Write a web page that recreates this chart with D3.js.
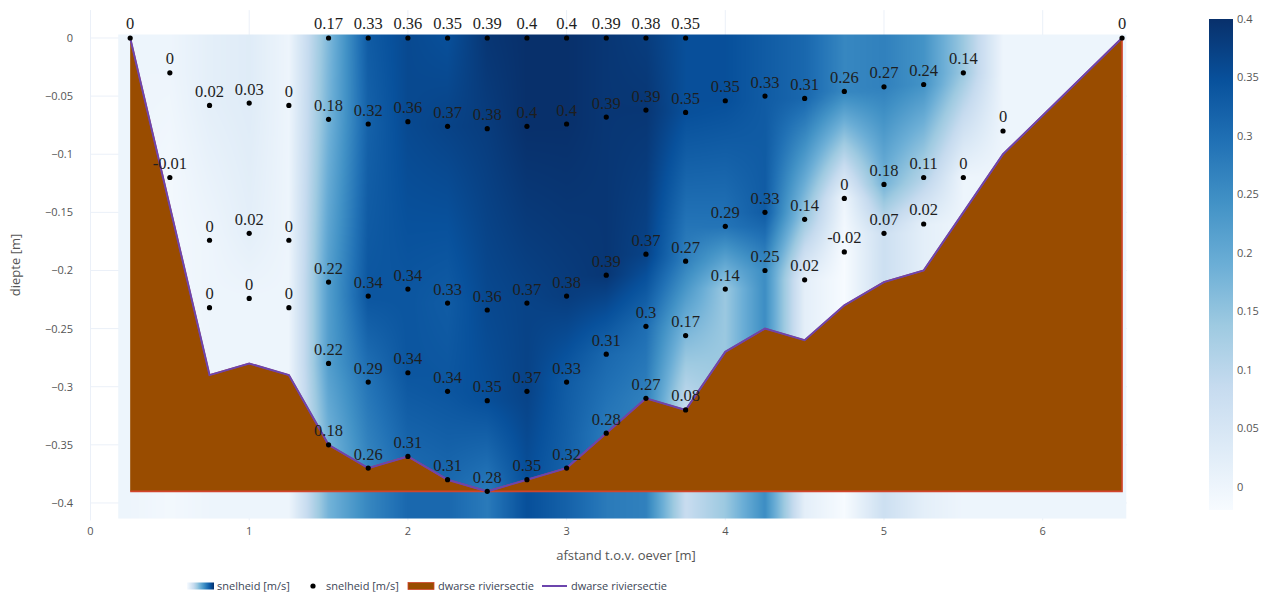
<!DOCTYPE html>
<html>
<head>
<meta charset="utf-8">
<script src="https://cdn.jsdelivr.net/npm/d3@7"></script>
<style>
  html, body { margin: 0; padding: 0; background: #fff; }
  svg { display: block; }
</style>
</head>
<body>
<svg id="chart" width="1261" height="592"></svg>
<script>
// Measured flow speeds across the river section: position from bank [m], depth [m], speed [m/s]
const pointX = [
  0.25,
  0.5, 0.5,
  0.75, 0.75, 0.75,
  1.0, 1.0, 1.0,
  1.25, 1.25, 1.25,
  1.5, 1.5, 1.5, 1.5, 1.5,
  1.75, 1.75, 1.75, 1.75, 1.75,
  2.0, 2.0, 2.0, 2.0, 2.0,
  2.25, 2.25, 2.25, 2.25, 2.25,
  2.5, 2.5, 2.5, 2.5, 2.5,
  2.75, 2.75, 2.75, 2.75, 2.75,
  3.0, 3.0, 3.0, 3.0, 3.0,
  3.25, 3.25, 3.25, 3.25, 3.25,
  3.5, 3.5, 3.5, 3.5, 3.5,
  3.75, 3.75, 3.75, 3.75, 3.75,
  4.0, 4.0, 4.0,
  4.25, 4.25, 4.25,
  4.5, 4.5, 4.5,
  4.75, 4.75, 4.75,
  5.0, 5.0, 5.0,
  5.25, 5.25, 5.25,
  5.5, 5.5,
  5.75,
  6.5
];
const pointDepth = [
  0,
  -0.03, -0.12,
  -0.058, -0.174, -0.232,
  -0.056, -0.168, -0.224,
  -0.058, -0.174, -0.232,
  0, -0.07, -0.21, -0.28, -0.35,
  0, -0.074, -0.222, -0.296, -0.37,
  0, -0.072, -0.216, -0.288, -0.36,
  0, -0.076, -0.228, -0.304, -0.38,
  0, -0.078, -0.234, -0.312, -0.39,
  0, -0.076, -0.228, -0.304, -0.38,
  0, -0.074, -0.222, -0.296, -0.37,
  0, -0.068, -0.204, -0.272, -0.34,
  0, -0.062, -0.186, -0.248, -0.31,
  0, -0.064, -0.192, -0.256, -0.32,
  -0.054, -0.162, -0.216,
  -0.05, -0.15, -0.2,
  -0.052, -0.156, -0.208,
  -0.046, -0.138, -0.184,
  -0.042, -0.126, -0.168,
  -0.04, -0.12, -0.16,
  -0.03, -0.12,
  -0.08,
  0
];
const pointSpeed = [
  0,
  0, -0.01,
  0.02, 0, 0,
  0.03, 0.02, 0,
  0, 0, 0,
  0.17, 0.18, 0.22, 0.22, 0.18,
  0.33, 0.32, 0.34, 0.29, 0.26,
  0.36, 0.36, 0.34, 0.34, 0.31,
  0.35, 0.37, 0.33, 0.34, 0.31,
  0.39, 0.38, 0.36, 0.35, 0.28,
  0.4, 0.4, 0.37, 0.37, 0.35,
  0.4, 0.4, 0.38, 0.33, 0.32,
  0.39, 0.39, 0.39, 0.31, 0.28,
  0.38, 0.39, 0.37, 0.3, 0.27,
  0.35, 0.35, 0.27, 0.17, 0.08,
  0.35, 0.29, 0.14,
  0.33, 0.33, 0.25,
  0.31, 0.14, 0.02,
  0.26, 0, -0.02,
  0.27, 0.18, 0.07,
  0.24, 0.11, 0.02,
  0.14, 0,
  0,
  0
];

// River bed (dwarse riviersectie)
const bedX     = [0.25, 0.75, 1.0, 1.25, 1.5, 1.75, 2.0, 2.25, 2.5, 2.75, 3.0, 3.25, 3.5, 3.75, 4.0, 4.25, 4.5, 4.75, 5.0, 5.25, 5.5, 5.75, 6.5];
const bedDepth = [0, -0.29, -0.28, -0.29, -0.35, -0.37, -0.36, -0.38, -0.39, -0.38, -0.37, -0.34, -0.31, -0.32, -0.27, -0.25, -0.26, -0.23, -0.21, -0.2, -0.15, -0.1, 0];
const bedBase = -0.39;

// Axis ticks
const xTicks = [0, 1, 2, 3, 4, 5, 6];
const yTicks = [0, -0.05, -0.1, -0.15, -0.2, -0.25, -0.3, -0.35, -0.4];
const yTickLabels = ["0", "\u22120.05", "\u22120.1", "\u22120.15", "\u22120.2", "\u22120.25", "\u22120.3", "\u22120.35", "\u22120.4"];
const cbTicks = [0, 0.05, 0.1, 0.15, 0.2, 0.25, 0.3, 0.35, 0.4];
const cbTickLabels = ["0", "0.05", "0.1", "0.15", "0.2", "0.25", "0.3", "0.35", "0.4"];

// Colour scale (Blues) and its value range
const blues = ["rgb(247,251,255)", "rgb(222,235,247)", "rgb(198,219,239)", "rgb(158,202,225)",
               "rgb(107,174,214)", "rgb(66,146,198)", "rgb(33,113,181)", "rgb(8,81,156)", "rgb(8,48,107)"];
const zMin = -0.02, zMax = 0.4;
// Extent of the interpolated speed field
const fieldX = [0.175, 6.525];
const fieldY = [-0.413, 0.003];

const legendLabels = ["snelheid [m/s]", "snelheid [m/s]", "dwarse riviersectie", "dwarse riviersectie"];

const fontSans = "'Open Sans', 'Noto Sans', sans-serif";
const fontSerif = "'Liberation Serif', 'Times New Roman', serif";
const axisColor = "#555";
const legendColor = "#3c4656";
const gridColor = "#ebf0f8";
const bedFill = "#994c00";
const bedEdge = "#d2452c";
const bedLine = "#6c45ad";

const svg = d3.select("#chart");
svg.append("rect").attr("width", 1261).attr("height", 592).attr("fill", "#fff");

const x = d3.scaleLinear().domain([0, 6.53]).range([90.5, 1126.8]);
const y = d3.scaleLinear().domain([-0.415, 0.024]).range([520.4, 10.1]);

const color = d3.scaleLinear()
  .domain(blues.map((_, i) => zMin + (zMax - zMin) * i / (blues.length - 1)))
  .range(blues)
  .interpolate(d3.interpolateRgb)
  .clamp(true);

// Grid
const grid = svg.append("g");
grid.selectAll("line.gx").data(xTicks).join("line")
  .attr("x1", d => x(d)).attr("x2", d => x(d))
  .attr("y1", y.range()[1]).attr("y2", y.range()[0])
  .attr("stroke", gridColor).attr("stroke-width", 1);
grid.selectAll("line.gy").data(yTicks).join("line")
  .attr("y1", d => y(d)).attr("y2", d => y(d))
  .attr("x1", x.range()[0]).attr("x2", x.range()[1])
  .attr("stroke", gridColor).attr("stroke-width", 1);

// Speed field: per measuring column, linear profile over depth; linear blend between columns
const columns = Array.from(d3.group(pointX.map((px, i) => ({x: px, d: pointDepth[i], v: pointSpeed[i]})), p => p.x),
  ([cx, pts]) => ({x: cx, pts: pts.slice().sort((a, b) => b.d - a.d)}))
  .sort((a, b) => a.x - b.x);

function profile(col, dv) {
  const p = col.pts;
  if (dv >= p[0].d) return p[0].v;
  if (dv <= p[p.length - 1].d) return p[p.length - 1].v;
  for (let k = 0; k < p.length - 1; k++) {
    if (dv <= p[k].d && dv >= p[k + 1].d) {
      const t = (p[k].d - dv) / (p[k].d - p[k + 1].d);
      return p[k].v + t * (p[k + 1].v - p[k].v);
    }
  }
  return p[p.length - 1].v;
}
function speedAt(xv, dv) {
  if (xv <= columns[0].x) return profile(columns[0], dv);
  const last = columns[columns.length - 1];
  if (xv >= last.x) return profile(last, dv);
  const k = d3.bisector(c => c.x).right(columns, xv) - 1;
  const a = columns[k], b = columns[k + 1];
  const t = (xv - a.x) / (b.x - a.x);
  return (1 - t) * profile(a, dv) + t * profile(b, dv);
}

const fx0 = x(fieldX[0]), fx1 = x(fieldX[1]);
const fy0 = y(fieldY[1]), fy1 = y(fieldY[0]);
const cw = Math.round(fx1 - fx0), ch = Math.round(fy1 - fy0);
const canvas = document.createElement("canvas");
canvas.width = cw; canvas.height = ch;
const ctx = canvas.getContext("2d");
const img = ctx.createImageData(cw, ch);
for (let j = 0; j < ch; j++) {
  const dv = y.invert(fy0 + j + 0.5);
  for (let i = 0; i < cw; i++) {
    const xv = x.invert(fx0 + i + 0.5);
    const c = d3.rgb(color(speedAt(xv, dv)));
    const o = (j * cw + i) * 4;
    img.data[o] = c.r; img.data[o + 1] = c.g; img.data[o + 2] = c.b; img.data[o + 3] = 255;
  }
}
ctx.putImageData(img, 0, 0);
svg.append("image")
  .attr("x", fx0).attr("y", fy0).attr("width", cw).attr("height", ch)
  .attr("preserveAspectRatio", "none")
  .attr("href", canvas.toDataURL());

// River bed section: filled polygon plus its edge (bottom and right side)
const bedPts = bedX.map((bx, i) => [bx, bedDepth[i]]);
const polyPts = bedPts.concat([[bedX[bedX.length - 1], bedBase], [bedX[0], bedBase]]);
const line = d3.line().x(d => x(d[0])).y(d => y(d[1]));
svg.append("path")
  .attr("d", line(polyPts) + "Z")
  .attr("fill", bedFill).attr("stroke", "none");
svg.append("path")
  .attr("d", line(polyPts))
  .attr("fill", "none").attr("stroke", bedEdge).attr("stroke-width", 1.6);
svg.append("path")
  .attr("d", line(bedPts))
  .attr("fill", "none").attr("stroke", bedLine).attr("stroke-width", 2);

// Measurement points with value labels
const pts = pointX.map((px, i) => ({x: px, d: pointDepth[i], v: pointSpeed[i]}));
svg.append("g").selectAll("circle").data(pts).join("circle")
  .attr("cx", d => x(d.x)).attr("cy", d => y(d.d)).attr("r", 2.6)
  .attr("fill", "#000");
svg.append("g").selectAll("text").data(pts).join("text")
  .attr("x", d => x(d.x)).attr("y", d => y(d.d) - 8.5)
  .attr("text-anchor", "middle")
  .attr("font-family", fontSerif).attr("font-size", 16.5)
  .attr("fill", "#1e1e1e")
  .text(d => String(d.v));

// Axes labels
const axes = svg.append("g").attr("font-family", fontSans).attr("fill", axisColor);
axes.selectAll("text.xt").data(xTicks).join("text")
  .attr("x", d => x(d)).attr("y", 534.5)
  .attr("text-anchor", "middle").attr("font-size", 11)
  .text(d => String(d));
axes.selectAll("text.yt").data(yTicks).join("text")
  .attr("x", 73).attr("y", d => y(d) + 4)
  .attr("text-anchor", "end").attr("font-size", 11)
  .text((d, i) => yTickLabels[i]);
axes.append("text")
  .attr("x", 626).attr("y", 559.5)
  .attr("text-anchor", "middle").attr("font-size", 13)
  .text("afstand t.o.v. oever [m]");
axes.append("text")
  .attr("transform", "translate(20,265) rotate(-90)")
  .attr("text-anchor", "middle").attr("font-size", 13)
  .text("diepte [m]");

// Colour bar
const defs = svg.append("defs");
const cbGrad = defs.append("linearGradient").attr("id", "cbGrad")
  .attr("x1", 0).attr("y1", 1).attr("x2", 0).attr("y2", 0);
blues.forEach((c, i) => cbGrad.append("stop").attr("offset", i / (blues.length - 1)).attr("stop-color", c));
const cy = d3.scaleLinear().domain([zMin, zMax]).range([510, 19]);
svg.append("rect")
  .attr("x", 1209).attr("y", cy(zMax)).attr("width", 24).attr("height", cy(zMin) - cy(zMax))
  .attr("fill", "url(#cbGrad)");
axes.selectAll("text.cb").data(cbTicks).join("text")
  .attr("x", 1237).attr("y", d => cy(d) + 4)
  .attr("font-size", 11)
  .text((d, i) => cbTickLabels[i]);

// Legend
const lgGrad = defs.append("linearGradient").attr("id", "lgGrad")
  .attr("x1", 0).attr("y1", 0).attr("x2", 1).attr("y2", 0);
blues.forEach((c, i) => lgGrad.append("stop").attr("offset", i / (blues.length - 1)).attr("stop-color", c));
const lg = svg.append("g").attr("font-family", fontSans).attr("font-size", 11).attr("fill", legendColor);
const ly = 586;
lg.append("rect").attr("x", 187).attr("y", ly - 3.5).attr("width", 27).attr("height", 7).attr("fill", "url(#lgGrad)");
lg.append("circle").attr("cx", 313).attr("cy", ly).attr("r", 2.6).attr("fill", "#000");
lg.append("rect").attr("x", 408).attr("y", ly - 3.5).attr("width", 26).attr("height", 7)
  .attr("fill", bedFill).attr("stroke", bedEdge).attr("stroke-width", 0.8);
lg.append("line").attr("x1", 542).attr("x2", 567).attr("y1", ly).attr("y2", ly)
  .attr("stroke", bedLine).attr("stroke-width", 2);
const legendX = [217, 326, 438, 571];
lg.selectAll("text").data(legendLabels).join("text")
  .attr("x", (d, i) => legendX[i]).attr("y", ly + 4)
  .text(d => d);
</script>
</body>
</html>
